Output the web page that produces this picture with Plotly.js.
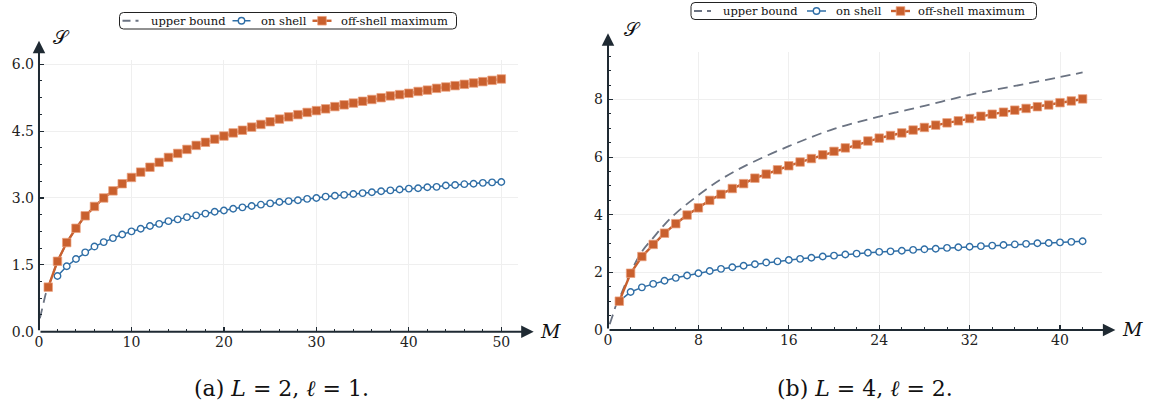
<!DOCTYPE html>
<html>
<head>
<meta charset="utf-8">
<script src="https://cdn.plot.ly/plotly-3.0.1.min.js"></script>
<style>html,body{margin:0;padding:0;background:#fff;}#chart{width:1150px;height:408px;}</style>
</head>
<body>
<div id="chart"></div>
<script>
// ---------- data: panel (a) L=2, l=1 ----------
const mA_off = [1,2,3,4,5,6,7,8,9,10,11,12,13,14,15,16,17,18,19,20,21,22,23,24,25,26,27,28,29,30,31,32,33,34,35,36,37,38,39,40,41,42,43,44,45,46,47,48,49,50];
const sA_off = [1.0,1.58,2.0,2.32,2.6,2.81,3.0,3.16,3.32,3.46,3.58,3.69,3.80,3.91,4.0,4.09,4.18,4.25,4.32,4.39,4.46,4.52,4.59,4.65,4.71,4.77,4.82,4.87,4.92,4.96,5.0,5.05,5.09,5.13,5.17,5.21,5.25,5.29,5.32,5.35,5.39,5.42,5.46,5.49,5.52,5.55,5.58,5.61,5.64,5.67];
const mA_on = [2,3,4,5,6,7,8,9,10,11,12,13,14,15,16,17,18,19,20,21,22,23,24,25,26,27,28,29,30,31,32,33,34,35,36,37,38,39,40,41,42,43,44,45,46,47,48,49,50];
const sA_on = [1.25,1.47,1.63,1.78,1.91,2.01,2.10,2.18,2.25,2.31,2.37,2.42,2.48,2.52,2.57,2.61,2.65,2.69,2.72,2.76,2.79,2.82,2.85,2.88,2.91,2.93,2.95,2.98,3.00,3.03,3.05,3.07,3.09,3.11,3.13,3.15,3.17,3.19,3.21,3.22,3.24,3.25,3.28,3.29,3.31,3.32,3.34,3.35,3.36];
// upper bound (a): visible start near origin, then coincides with the off-shell maximum
const mA_ubStart = [0.1,0.4,0.7];
const sA_ubStart = [0.3,0.6,0.83];

// ---------- data: panel (b) L=4, l=2 ----------
const mB = [1,2,3,4,5,6,7,8,9,10,11,12,13,14,15,16,17,18,19,20,21,22,23,24,25,26,27,28,29,30,31,32,33,34,35,36,37,38,39,40,41,42];
const sB_off = [1.0,1.97,2.55,2.97,3.36,3.69,3.99,4.24,4.5,4.71,4.91,5.08,5.27,5.41,5.56,5.7,5.83,5.95,6.08,6.2,6.32,6.44,6.56,6.66,6.75,6.84,6.94,7.03,7.11,7.19,7.26,7.34,7.42,7.49,7.56,7.63,7.69,7.75,7.81,7.89,7.95,8.02];
const sB_on = [1.0,1.32,1.48,1.60,1.71,1.81,1.89,1.97,2.05,2.12,2.18,2.23,2.28,2.34,2.38,2.43,2.47,2.51,2.55,2.58,2.62,2.65,2.68,2.71,2.73,2.75,2.78,2.80,2.82,2.85,2.87,2.89,2.91,2.93,2.95,2.97,2.99,3.01,3.02,3.04,3.06,3.08];
const mB_ub = [0.15,0.45,0.7,1,2,3,4,5,6,8,10,12,16,20,24,28,32,36,40,42];
const sB_ub = [0.2,0.55,0.85,1.1,2.0,2.72,3.2,3.66,4.05,4.68,5.23,5.67,6.38,6.98,7.41,7.78,8.16,8.47,8.78,8.94];

const seriesNames = ['upper bound','on shell','off-shell maximum'];
const captions = ['(a) <i>L</i> = 2, <i>ℓ</i> = 1.', '(b) <i>L</i> = 4, <i>ℓ</i> = 2.'];
const yTitle = '𝒮';
const xTitle = '<i>M</i>';

// ---------- styles ----------
const C_ORANGE = '#c9602e', C_BLUE = '#2f6ea6', C_GRAY = '#6b7382', C_AX = '#1f2a33';
const SERIF = '"DejaVu Serif", serif';
const W = 1150, H = 408;
const px = v => v / W, py = v => 1 - v / H;

function makeTraces(xa, ya, mUb, sUb, ubShape, mOn, sOn, mOff, sOff){
  return [
    {x:mUb, y:sUb, xaxis:xa, yaxis:ya, name:seriesNames[0], mode:'lines',
     line:{color:C_GRAY, width:1.8, dash:'10px,6px', shape:ubShape}, cliponaxis:false, hoverinfo:'skip'},
    {x:mOn, y:sOn, xaxis:xa, yaxis:ya, name:seriesNames[1], mode:'lines+markers',
     line:{color:C_BLUE, width:1.5},
     marker:{symbol:'circle', size:6.5, color:'#ffffff', line:{color:C_BLUE, width:1.4}}, cliponaxis:false},
    {x:mOff, y:sOff, xaxis:xa, yaxis:ya, name:seriesNames[2], mode:'lines+markers',
     line:{color:C_ORANGE, width:2.4},
     marker:{symbol:'square', size:8.5, color:C_ORANGE, line:{color:'rgba(236,160,125,0.9)', width:0.8}}, cliponaxis:false}
  ];
}

const data = [].concat(
  makeTraces('x','y', mA_ubStart.concat(mA_off), sA_ubStart.concat(sA_off), 'linear', mA_on, sA_on, mA_off, sA_off),
  makeTraces('x2','y2', mB_ub, sB_ub, 'spline', mB, sB_on, mB, sB_off)
);

function xAx(domain, range, dtick, anchor){
  return {domain:domain, range:range, anchor:anchor, dtick:dtick, tick0:0,
    ticks:'inside', ticklen:5, tickwidth:1.2, tickcolor:C_AX,
    showgrid:true, gridcolor:'#efefef', gridwidth:1, zeroline:false, showline:false,
    tickfont:{family:SERIF, size:14, color:'#222'},
    minor:{dtick:2, tick0:0, ticks:'inside', ticklen:3, tickwidth:1, tickcolor:C_AX, showgrid:false},
    fixedrange:true};
}
function yAx(domain, range, dtick, minorDtick, fmt, anchor){
  return {domain:domain, range:range, anchor:anchor, dtick:dtick, tick0:0, tickformat:fmt,
    ticks:'inside', ticklen:5, tickwidth:1.2, tickcolor:C_AX, ticklabelstandoff:4,
    showgrid:true, gridcolor:'#efefef', gridwidth:1, zeroline:false, showline:false,
    tickfont:{family:SERIF, size:14, color:'#222'},
    minor:{dtick:minorDtick, tick0:0, ticks:'inside', ticklen:3, tickwidth:1, tickcolor:C_AX, showgrid:false},
    fixedrange:true};
}

function arrow(xref, yref, x, y){
  return {xref:xref, yref:yref, axref:xref, ayref:yref, x:x, y:y, ax:0, ay:0, text:'',
    showarrow:true, arrowhead:2, arrowsize:1.25, arrowwidth:2, arrowcolor:C_AX, standoff:0, startstandoff:0};
}
function label(x, y, text, size, extra){
  return Object.assign({xref:'paper', yref:'paper', x:x, y:y, text:text, showarrow:false,
    xanchor:'center', yanchor:'middle', font:{family:SERIF, size:size, color:'#111'}}, extra||{});
}

// ---------- hand-built legends (compact keys, rounded frame) ----------
function legendParts(L, R, T, B, keys){
  const shapes = [], anns = [];
  const r = 4, cy = (T + B) / 2;
  const path = 'M' + px(L + r) + ',' + py(T) + ' L' + px(R - r) + ',' + py(T) +
    ' Q' + px(R) + ',' + py(T) + ' ' + px(R) + ',' + py(T + r) +
    ' L' + px(R) + ',' + py(B - r) + ' Q' + px(R) + ',' + py(B) + ' ' + px(R - r) + ',' + py(B) +
    ' L' + px(L + r) + ',' + py(B) + ' Q' + px(L) + ',' + py(B) + ' ' + px(L) + ',' + py(B - r) +
    ' L' + px(L) + ',' + py(T + r) + ' Q' + px(L) + ',' + py(T) + ' ' + px(L + r) + ',' + py(T) + ' Z';
  shapes.push({type:'path', xref:'paper', yref:'paper', path:path, fillcolor:'#ffffff',
    line:{color:'#222', width:1}, layer:'above'});
  shapes.push({type:'line', xref:'paper', yref:'paper', x0:px(L + keys[0][0]), x1:px(L + keys[0][1]), y0:py(cy), y1:py(cy),
    line:{color:C_GRAY, width:1.8, dash:'8px,5px'}, layer:'above'});
  shapes.push({type:'line', xref:'paper', yref:'paper', x0:px(L + keys[1][0]), x1:px(L + keys[1][1]), y0:py(cy), y1:py(cy),
    line:{color:C_BLUE, width:1.5}, layer:'above'});
  const cb = L + (keys[1][0] + keys[1][1]) / 2;
  shapes.push({type:'circle', xref:'paper', yref:'paper', x0:px(cb - 3.2), x1:px(cb + 3.2), y0:py(cy - 3.2), y1:py(cy + 3.2),
    fillcolor:'#ffffff', line:{color:C_BLUE, width:1.4}, layer:'above'});
  shapes.push({type:'line', xref:'paper', yref:'paper', x0:px(L + keys[2][0]), x1:px(L + keys[2][1]), y0:py(cy), y1:py(cy),
    line:{color:C_ORANGE, width:2.4}, layer:'above'});
  const co = L + (keys[2][0] + keys[2][1]) / 2;
  shapes.push({type:'rect', xref:'paper', yref:'paper', x0:px(co - 4.3), x1:px(co + 4.3), y0:py(cy - 4.3), y1:py(cy + 4.3),
    fillcolor:C_ORANGE, line:{color:'rgba(236,160,125,0.9)', width:0.8}, layer:'above'});
  for (let i = 0; i < 3; i++){
    anns.push({xref:'paper', yref:'paper', x:px(L + keys[i][2]), y:py(cy), text:seriesNames[i], showarrow:false,
      xanchor:'left', yanchor:'middle', font:{family:SERIF, size:11.5, color:'#111'}, xshift:-1});
  }
  return {shapes, anns};
}
// [keyStart, keyEnd, textStart] relative to frame left
const legA = legendParts(119.5, 456.5, 12.5, 29, [[3,19,30],[113,131,140],[193,212,220]]);
const legB = legendParts(691, 1036.5, 2.5, 19.5, [[3,20,31],[116,135,144],[200,219,225.5]]);

const layout = {
  width:W, height:H, margin:{l:0, r:0, t:0, b:0},
  paper_bgcolor:'#ffffff', plot_bgcolor:'#ffffff', showlegend:false,
  font:{family:SERIF},
  xaxis: xAx([0.0339, 0.4504], [0, 51.8], 10, 'y'),
  yaxis: yAx([0.187, 0.8534], [0, 6.1], 1.5, 0.375, '.1f', 'x'),
  xaxis2: xAx([0.5287, 0.9581], [0, 43.7], 8, 'y2'),
  yaxis2: yAx([0.1912, 0.8733], [0, 9.66], 2, 0.5, '', 'x2'),
  shapes: legA.shapes.concat(legB.shapes),
  annotations:[
    arrow('x','y', 53.5, 0), arrow('x','y', 0, 6.53),
    arrow('x2','y2', 44.9, 0), arrow('x2','y2', 0, 10.3),
    label(0.4783, 0.1887, xTitle, 19),
    label(0.9846, 0.1936, xTitle, 19),
    label(0.0539, 0.9093, yTitle, 19, {font:{family:'"DejaVu Sans", "DejaVu Serif", serif', size:19, color:'#111'}}),
    label(0.5504, 0.9289, yTitle, 19, {font:{family:'"DejaVu Sans", "DejaVu Serif", serif', size:19, color:'#111'}}),
    label(0.2452, 0.048, captions[0], 22),
    label(0.7522, 0.048, captions[1], 22)
  ].concat(legA.anns, legB.anns)
};

Plotly.newPlot('chart', data, layout, {staticPlot:true, displayModeBar:false});
</script>
</body>
</html>
